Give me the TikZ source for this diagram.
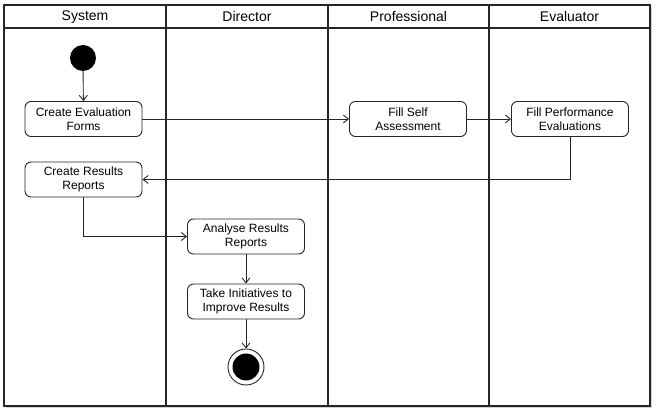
\documentclass[tikz,border=0pt]{standalone}
\usepackage{fontspec}
\setmainfont{Liberation Sans}
\usetikzlibrary{arrows.meta,shadows}

\tikzset{
  action/.style={draw, rounded corners=6pt, line width=0.9pt, minimum width=117pt,
    minimum height=35pt, align=center, font=\fontsize{12}{14}\selectfont, inner sep=1pt},
  flow/.style={-{Straight Barb[length=5pt,width=8pt]}, line width=0.9pt},
  lanehead/.style={font=\fontsize{14}{16}\selectfont}
}

\begin{document}
\begin{tikzpicture}[x=1pt, y=-1pt, draw=black!85]
				\useasboundingbox (0,0) rectangle (657,411);
				% frame and lanes
				\draw[line width=1.2pt, fill=white, drop shadow={opacity=0.35, shadow xshift=2pt, shadow yshift=-2pt}] (4,5) rectangle (650,406);
				\draw[line width=1.1pt] (4,28) -- (650,28);
				\foreach \x in {166,328,489}
					\draw[line width=1.1pt] (\x,5) -- (\x,406);
				% lane titles
				\node[lanehead] (hsys) at (85,17) {System};
				\node[lanehead] (hdir) at (247,17) {Director};
				\node[lanehead] (hpro) at (408.5,17) {Professional};
				\node[lanehead] (heva) at (569.5,17) {Evaluator};
				% start and end
				\node[circle, fill=black, minimum size=26pt, inner sep=0pt] (start) at (83,58) {};
				\node[circle, draw, line width=0.9pt, minimum size=36pt, inner sep=0pt] (stop) at (246,367) {};
				\node[circle, fill=black, minimum size=27pt, inner sep=0pt] (stopdot) at (246,367) {};
				% actions
				\node[action] (forms) at (83.5,119) {Create Evaluation\\Forms};
				\node[action] (selfass) at (408,119) {Fill Self\\Assessment};
				\node[action] (perfeval) at (570,119) {Fill Performance\\Evaluations};
				\node[action] (reports) at (83.5,179.5) {Create Results\\Reports};
				\node[action] (analyse) at (246,236.5) {Analyse Results\\Reports};
				\node[action] (improve) at (246,301.5) {Take Initiatives to\\Improve Results};
				% flows
				\draw[flow] (start) -- (forms);
				\draw[flow] (forms) -- (selfass);
				\draw[flow] (selfass) -- (perfeval);
				\draw[flow] (perfeval.south) |- (reports.east);
				\draw[flow] (reports.south) |- (analyse.west);
				\draw[flow] (analyse) -- (improve);
				\draw[flow] (improve) -- (stop);
\end{tikzpicture}
\end{document}
